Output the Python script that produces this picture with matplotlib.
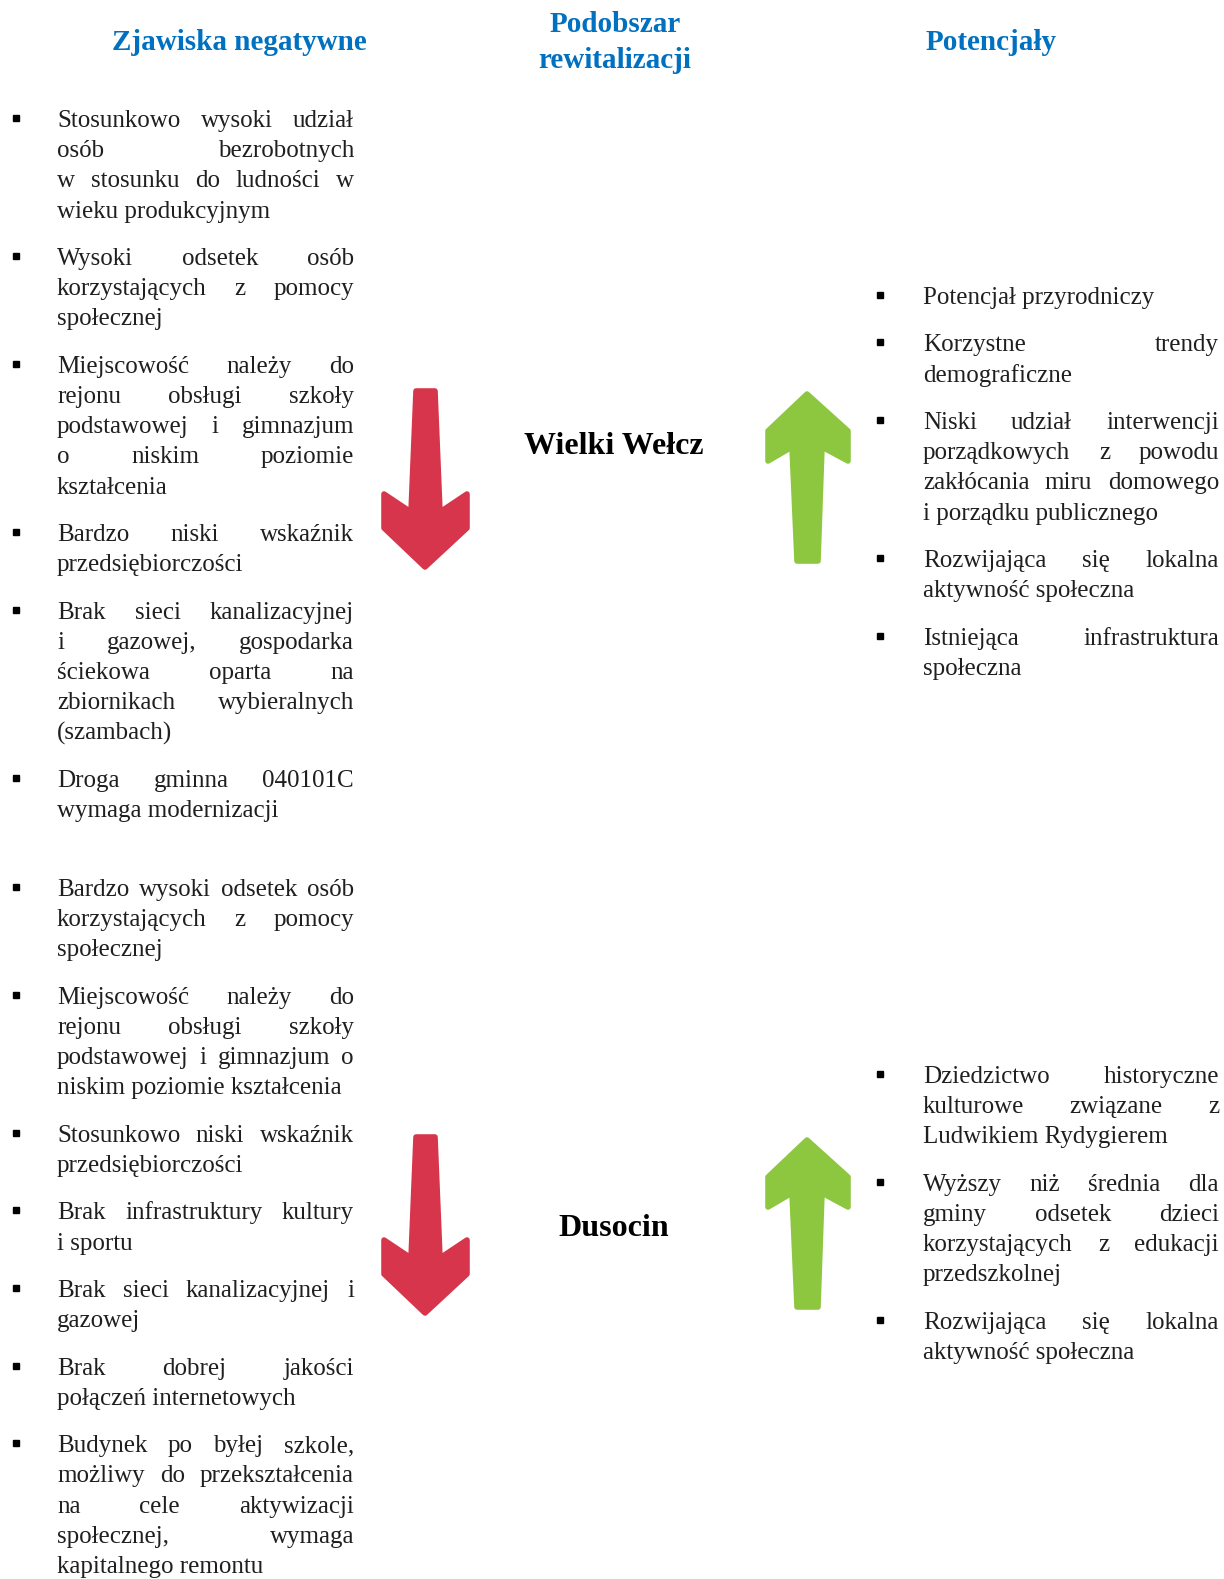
import matplotlib
matplotlib.use("Agg")
import matplotlib.pyplot as plt
from matplotlib.patches import Polygon

# texts of the diagram
header_left = "Zjawiska negatywne"
header_mid = ["Podobszar", "rewitalizacji"]
header_right = "Potencjały"
areas = ["Wielki Wełcz", "Dusocin"]

neg_wielki_welcz = [
    ["Stosunkowo wysoki udział", "osób bezrobotnych", "w stosunku do ludności w", "wieku produkcyjnym"],
    ["Wysoki odsetek osób", "korzystających z pomocy", "społecznej"],
    ["Miejscowość należy do", "rejonu obsługi szkoły", "podstawowej i gimnazjum", "o niskim poziomie", "kształcenia"],
    ["Bardzo niski wskaźnik", "przedsiębiorczości"],
    ["Brak sieci kanalizacyjnej", "i gazowej, gospodarka", "ściekowa oparta na", "zbiornikach wybieralnych", "(szambach)"],
    ["Droga gminna 040101C", "wymaga modernizacji"],
]
neg_dusocin = [
    ["Bardzo wysoki odsetek osób", "korzystających z pomocy", "społecznej"],
    ["Miejscowość należy do", "rejonu obsługi szkoły", "podstawowej i gimnazjum o", "niskim poziomie kształcenia"],
    ["Stosunkowo niski wskaźnik", "przedsiębiorczości"],
    ["Brak infrastruktury kultury", "i sportu"],
    ["Brak sieci kanalizacyjnej i", "gazowej"],
    ["Brak dobrej jakości", "połączeń internetowych"],
    ["Budynek po byłej szkole,", "możliwy do przekształcenia", "na cele aktywizacji", "społecznej, wymaga", "kapitalnego remontu"],
]
pot_wielki_welcz = [
    ["Potencjał przyrodniczy"],
    ["Korzystne trendy", "demograficzne"],
    ["Niski udział interwencji", "porządkowych z powodu", "zakłócania miru domowego", "i porządku publicznego"],
    ["Rozwijająca się lokalna", "aktywność społeczna"],
    ["Istniejąca infrastruktura", "społeczna"],
]
pot_dusocin = [
    ["Dziedzictwo historyczne", "kulturowe związane z", "Ludwikiem Rydygierem"],
    ["Wyższy niż średnia dla", "gminy odsetek dzieci", "korzystających z edukacji", "przedszkolnej"],
    ["Rozwijająca się lokalna", "aktywność społeczna"],
]

W, H = 1224, 1579
SERIF = ["Liberation Serif", "DejaVu Serif"]
BLUE = "#0070C0"
RED = "#D7354B"
GREEN = "#8DC63F"
BODY = 18
LINE = 30.2
GAP = 47.4

fig = plt.figure(figsize=(W / 100, H / 100), dpi=100)
ax = fig.add_axes([0, 0, 1, 1])
ax.set_xlim(0, W)
ax.set_ylim(H, 0)
ax.axis("off")
renderer = fig.canvas.get_renderer()


def justified(line, x0, x1, y, last):
    words = line.split()
    if last or len(words) == 1:
        ax.text(x0, y, line, ha="left", va="baseline", fontsize=BODY,
                family=SERIF, color="#1f1f1f")
        return
    texts = [ax.text(0, y, w, ha="left", va="baseline", fontsize=BODY,
                     family=SERIF, color="#1f1f1f") for w in words]
    widths = [t.get_window_extent(renderer).width for t in texts]
    gap = (x1 - x0 - sum(widths)) / (len(words) - 1)
    x = x0
    for t, w in zip(texts, widths):
        t.set_x(x)
        x += w + gap


def block(groups, xb, x0, x1, y0):
    y = y0
    for g in groups:
        ax.plot(xb, y - 1, "s", color="black", markersize=5)
        for i, line in enumerate(g):
            justified(line, x0, x1, y + 8, i == len(g) - 1)
            if i < len(g) - 1:
                y += LINE
        y += GAP


def arrow(pts, color, dy):
    ax.add_patch(Polygon([(x, y + dy) for x, y in pts], closed=True,
                         facecolor=color, edgecolor=color, lw=4,
                         joinstyle="round"))


# headers
ax.text(239, 42, header_left, ha="center", va="center", fontsize=21,
        fontweight="bold", family=SERIF, color=BLUE)
ax.text(615, 24, header_mid[0], ha="center", va="center", fontsize=21,
        fontweight="bold", family=SERIF, color=BLUE)
ax.text(615, 60, header_mid[1], ha="center", va="center", fontsize=21,
        fontweight="bold", family=SERIF, color=BLUE)
ax.text(991, 42, header_right, ha="center", va="center", fontsize=21,
        fontweight="bold", family=SERIF, color=BLUE)

# area names
ax.text(614, 446, areas[0], ha="center", va="center", fontsize=23,
        fontweight="bold", family=SERIF, color="black")
ax.text(614, 1228, areas[1], ha="center", va="center", fontsize=23,
        fontweight="bold", family=SERIF, color="black")

# bullet lists
block(neg_wielki_welcz, 16, 57, 354, 119)
block(neg_dusocin, 16, 57, 354, 888)
block(pot_wielki_welcz, 880, 923, 1219, 296)
block(pot_dusocin, 880, 923, 1219, 1075)

# arrows
down = [(416, 391), (435, 391), (440, 512), (467, 494), (467, 528), (425, 567),
        (384, 528), (384, 494), (411, 512)]
up = [(807, 394), (848, 431), (848, 461), (822, 447), (818, 561), (797, 561),
      (792, 447), (768, 461), (768, 431)]
for dy in (0, 746):
    arrow(down, RED, dy)
    arrow(up, GREEN, dy)

fig.savefig("out.png", dpi=100)
